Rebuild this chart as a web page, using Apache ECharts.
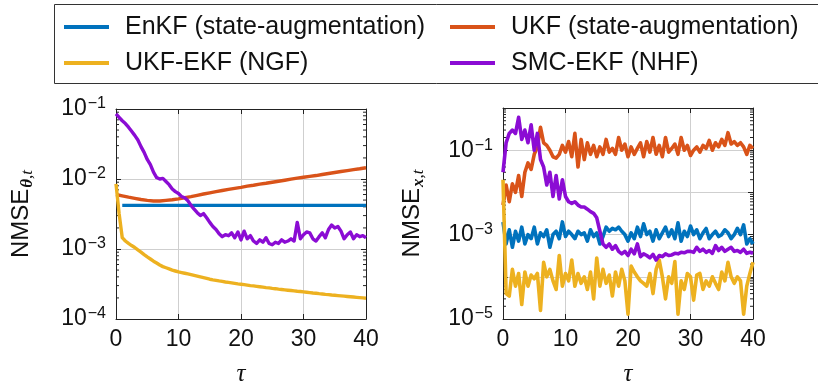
<!DOCTYPE html>
<html><head><meta charset="utf-8">
<script src="https://cdn.jsdelivr.net/npm/echarts@6/dist/echarts.min.js"></script>
<style>html,body{margin:0;padding:0;background:#fff}#c{width:818px;height:381px}</style>
</head><body><div id="c"></div>
<script>
// ---------- data ----------
const tauInt = [0,1,2,3,4,5,6,7,8,9,10,11,12,13,14,15,16,17,18,19,20,21,22,23,24,25,26,27,28,29,30,31,32,33,34,35,36,37,38,39,40];
const tauHalf = [0,0.5,1,1.5,2,2.5,3,3.5,4,4.5,5,5.5,6,6.5,7,7.5,8,8.5,9,9.5,
  10,10.5,11,11.5,12,12.5,13,13.5,14,14.5,15,15.5,16,16.5,17,17.5,18,18.5,19,19.5,
  20,20.5,21,21.5,22,22.5,23,23.5,24,24.5,25,25.5,26,26.5,27,27.5,28,28.5,29,29.5,
  30,30.5,31,31.5,32,32.5,33,33.5,34,34.5,35,35.5,36,36.5,37,37.5,38,38.5,39,39.5,40];

const seriesNames = ['EnKF (state-augmentation)','UKF (state-augmentation)','UKF-EKF (NGF)','SMC-EKF (NHF)'];
const seriesColors = ['#0072BD','#D95319','#EDB120','#8B0CD4'];

// left panel: NMSE theta
const leftEnKF = [null,4.2e-3,4.2e-3,4.2e-3,4.2e-3,4.2e-3,4.2e-3,4.2e-3,4.2e-3,4.2e-3,4.2e-3,4.2e-3,4.2e-3,4.2e-3,4.2e-3,4.2e-3,4.2e-3,4.2e-3,4.2e-3,4.2e-3,4.2e-3,4.2e-3,4.2e-3,4.2e-3,4.2e-3,4.2e-3,4.2e-3,4.2e-3,4.2e-3,4.2e-3,4.2e-3,4.2e-3,4.2e-3,4.2e-3,4.2e-3,4.2e-3,4.2e-3,4.2e-3,4.2e-3,4.2e-3,4.2e-3];
const leftUKF = [6.0e-3,5.75e-3,5.5e-3,5.3e-3,5.1e-3,4.95e-3,4.85e-3,4.85e-3,4.95e-3,5.05e-3,5.2e-3,5.4e-3,5.6e-3,5.85e-3,6.1e-3,6.35e-3,6.6e-3,6.85e-3,7.1e-3,7.35e-3,7.6e-3,7.9e-3,8.15e-3,8.45e-3,8.7e-3,9.0e-3,9.3e-3,9.6e-3,9.95e-3,1.03e-2,1.06e-2,1.09e-2,1.12e-2,1.16e-2,1.2e-2,1.24e-2,1.28e-2,1.32e-2,1.36e-2,1.4e-2,1.45e-2];
const leftNGF = [
  8.5e-3,3.2e-3,1.45e-3,1.3e-3,1.2e-3,1.12e-3,1.05e-3,9.7e-4,9.0e-4,8.3e-4,
  7.7e-4,7.2e-4,6.7e-4,6.3e-4,5.9e-4,5.6e-4,5.4e-4,5.2e-4,5.0e-4,4.85e-4,
  4.7e-4,4.6e-4,4.5e-4,4.4e-4,4.3e-4,4.2e-4,4.1e-4,4.0e-4,3.9e-4,3.8e-4,
  3.7e-4,3.63e-4,3.57e-4,3.5e-4,3.44e-4,3.38e-4,3.33e-4,3.28e-4,3.23e-4,3.18e-4,
  3.14e-4,3.1e-4,3.05e-4,3.0e-4,2.97e-4,2.93e-4,2.89e-4,2.85e-4,2.81e-4,2.78e-4,
  2.74e-4,2.71e-4,2.67e-4,2.64e-4,2.61e-4,2.58e-4,2.55e-4,2.52e-4,2.49e-4,2.47e-4,
  2.44e-4,2.41e-4,2.38e-4,2.35e-4,2.33e-4,2.3e-4,2.28e-4,2.25e-4,2.23e-4,2.2e-4,
  2.18e-4,2.16e-4,2.14e-4,2.12e-4,2.1e-4,2.08e-4,2.06e-4,2.04e-4,2.02e-4,2.0e-4,
  1.98e-4];
const leftNHF = [
  8.5e-2,7.6e-2,6.8e-2,6.2e-2,5.5e-2,4.8e-2,4.2e-2,3.6e-2,2.9e-2,2.4e-2,
  1.9e-2,1.6e-2,1.25e-2,1.05e-2,1.0e-2,1.02e-2,9.2e-3,8.3e-3,7.2e-3,6.6e-3,
  6.2e-3,5.6e-3,5.4e-3,4.9e-3,4.2e-3,3.7e-3,3.3e-3,3.0e-3,3.2e-3,2.8e-3,
  2.4e-3,2.1e-3,1.9e-3,1.65e-3,1.5e-3,1.6e-3,1.55e-3,1.7e-3,1.45e-3,1.75e-3,
  1.35e-3,1.8e-3,1.4e-3,1.55e-3,1.3e-3,1.2e-3,1.35e-3,1.25e-3,1.45e-3,1.2e-3,
  1.15e-3,1.25e-3,1.2e-3,1.35e-3,1.25e-3,1.3e-3,1.4e-3,1.3e-3,2.4e-3,1.4e-3,
  1.6e-3,1.75e-3,1.7e-3,1.4e-3,1.3e-3,1.5e-3,1.7e-3,1.45e-3,1.9e-3,2.2e-3,
  2.0e-3,2.1e-3,1.8e-3,1.4e-3,1.6e-3,1.75e-3,1.4e-3,1.6e-3,1.5e-3,1.55e-3,
  1.45e-3];

// right panel: NMSE x
const rightEnKF = [
  2e-3,6e-4,1.3e-3,5e-4,1.2e-3,7e-4,1.5e-3,6e-4,1.0e-3,8e-4,
  1.5e-3,6e-4,1.1e-3,9e-4,1.3e-3,5e-4,1.0e-3,1.2e-3,8e-4,2.0e-3,
  9e-4,1.2e-3,1.0e-3,8e-4,1.2e-3,1.0e-3,1.1e-3,7e-4,1.3e-3,9e-4,
  1.1e-3,6e-4,9e-4,1.5e-3,1.2e-3,1.4e-3,1.3e-3,1.5e-3,1.2e-3,1.0e-3,
  7e-4,1.1e-3,8e-4,1.5e-3,9e-4,1.8e-3,1.0e-3,1.2e-3,7e-4,1.3e-3,
  8e-4,1.1e-3,1.5e-3,9e-4,1.3e-3,8e-4,1.9e-3,7e-4,1.2e-3,9e-4,
  1.6e-3,1.0e-3,1.3e-3,8e-4,1.1e-3,1.4e-3,8e-4,1.0e-3,1.2e-3,9e-4,
  1.0e-3,1.3e-3,1.1e-3,8e-4,1.0e-3,1.4e-3,1.0e-3,1.7e-3,6e-4,8e-4,
  6e-4];
const rightUKF = [
  5e-3,1.5e-2,6e-3,1.6e-2,1.0e-2,2.5e-2,8e-3,3.0e-2,5.0e-2,3.5e-2,
  8.0e-2,1.2e-1,3.5e-1,1.5e-1,1.3e-1,1.0e-1,7e-2,6.5e-2,8e-2,1.3e-1,
  9e-2,1.6e-1,7e-2,2.5e-1,4e-2,1.8e-1,6e-2,1.5e-1,8e-2,1.3e-1,
  7e-2,1.2e-1,8e-2,1.8e-1,9e-2,1.1e-1,8e-2,2.0e-1,1.0e-1,1.4e-1,
  7e-2,1.2e-1,8e-2,1.1e-1,1.5e-1,7e-2,1.6e-1,9e-2,2.0e-1,8e-2,
  1.3e-1,7e-2,2.0e-1,9e-2,1.1e-1,1.4e-1,8e-2,2.0e-1,1.0e-1,1.3e-1,
  7.5e-2,1.0e-1,1.2e-1,9e-2,1.3e-1,1.1e-1,1.7e-1,1.0e-1,1.5e-1,1.2e-1,
  1.8e-1,1.3e-1,2.6e-1,1.4e-1,1.6e-1,1.3e-1,1.5e-1,1.2e-1,8e-2,1.3e-1,
  1.1e-1];
const rightNGF = [
  2e-2,4e-5,3.5e-5,1.5e-4,6e-5,1.2e-4,2.2e-5,1.3e-4,6e-5,1.1e-4,
  9e-5,1.2e-4,1.6e-5,2.2e-4,1.0e-4,1.5e-4,8e-5,5e-5,3.2e-4,6e-5,
  1.2e-4,8e-5,2.5e-4,6e-5,1.2e-4,7e-5,1.0e-4,5e-5,1.3e-4,3e-5,
  2.8e-4,6e-5,1.5e-4,7e-5,1.1e-4,3.5e-5,1.3e-4,6e-5,1.5e-4,8e-5,
  1.3e-5,1.8e-4,1.3e-4,1.0e-4,8e-5,7e-5,6e-5,1.2e-4,4e-5,1.5e-4,
  2.5e-4,1.0e-4,3e-5,1.0e-4,7e-5,2.3e-4,1.3e-5,8e-5,5e-5,1.2e-4,
  1.0e-4,2.8e-5,1.1e-4,1.2e-4,5e-5,8e-5,6e-5,1.0e-4,7e-5,5e-5,
  1.3e-4,8e-5,2.2e-4,1.0e-4,7e-5,1.0e-4,8e-5,1.3e-5,6e-5,1.2e-4,
  2.2e-4];
const rightNHF = [
  3e-2,1.5e-1,2.5e-1,3.0e-1,2.5e-1,6e-1,1.8e-1,3e-1,1.5e-1,4e-1,
  1.0e-1,2.5e-1,6e-2,4e-2,1.5e-2,3e-2,8e-3,2.5e-2,7e-3,2e-2,
  8e-3,6e-3,5.5e-3,6e-3,5e-3,4.5e-3,4.5e-3,4e-3,3.5e-3,3.2e-3,
  2.5e-3,1.2e-3,6e-4,5e-4,6e-4,4.5e-4,5.5e-4,4e-4,3.5e-4,4e-4,
  3.2e-4,4.5e-4,3.5e-4,6e-4,3e-4,3.5e-4,3.2e-4,2.8e-4,3.4e-4,2.5e-4,
  3.2e-4,3e-4,3.5e-4,3.2e-4,3.3e-4,3.6e-4,3.5e-4,3.8e-4,3.7e-4,4e-4,
  4.0e-4,3.8e-4,5e-4,4e-4,4.5e-4,3.8e-4,4.2e-4,3.6e-4,5.5e-4,4.2e-4,
  5e-4,4e-4,4.5e-4,5e-4,4e-4,4.2e-4,3.8e-4,4.5e-4,3.6e-4,3.8e-4,
  3.6e-4];

// tick configuration
const xTicks = {min: 0, max: 40, interval: 10};
const leftY = {min: 1e-4, max: 1e-1};
const rightY = {min: 1e-5, max: 1};
const minorMultipliers = [2,3,4,5,6,7,8,9];
const leftDecades = [1e-4,1e-3,1e-2];
const rightDecades = [1e-5,1e-4,1e-3,1e-2,1e-1];

// ---------- chart ----------
const SANS = "'Liberation Sans', Arial, Helvetica, sans-serif";
const SERIF = "'Liberation Serif', 'DejaVu Serif', serif";
const AX = '#222';
const GRIDC = '#cfcfcf';

function zip(xs, ys){ return xs.map((x,i)=>[x, ys[i]]); }
function expLabel(skipEven){
  return function(v){
    const e = Math.round(Math.log10(v));
    if (skipEven && e % 2 === 0) return '';
    return '{a|10}{s|' + (e < 0 ? '\u2212' : '') + Math.abs(e) + '}';
  };
}
const labelRich = {
  a: {fontSize: 23, fontFamily: SANS, color: '#111', lineHeight: 30, verticalAlign: 'middle'},
  s: {fontSize: 16, fontFamily: SANS, color: '#111', verticalAlign: 'top', padding: [2,0,0,1]}
};
function nameRich(){
  return {
    n: {fontSize: 24, fontFamily: SANS, color: '#111', lineHeight: 30, verticalAlign: 'middle'},
    b: {fontSize: 17, fontFamily: SERIF, fontStyle: 'italic', fontWeight: 'bold', color: '#111', verticalAlign: 'bottom', padding: [0,0,0,1]},
    i: {fontSize: 17, fontFamily: SERIF, fontStyle: 'italic', color: '#111', verticalAlign: 'bottom'}
  };
}

function xAxisMain(gridIndex){
  return {
    type: 'value', gridIndex, min: xTicks.min, max: xTicks.max, interval: xTicks.interval,
    position: 'bottom',
    axisLine: {show: true, onZero: false, lineStyle: {color: AX, width: 1}},
    axisTick: {show: true, inside: true, length: 5, lineStyle: {color: AX}},
    axisLabel: {fontSize: 23, fontFamily: SANS, color: '#111', margin: 9},
    splitLine: {show: true, lineStyle: {color: GRIDC, width: 1}},
    name: '\u03C4', nameLocation: 'middle', nameGap: 43,
    nameTextStyle: {fontSize: 25, fontFamily: SERIF, fontStyle: 'italic', color: '#111'}
  };
}
function xAxisTop(gridIndex){
  return {
    type: 'value', gridIndex, min: xTicks.min, max: xTicks.max, interval: xTicks.interval,
    position: 'top',
    axisLine: {show: true, onZero: false, lineStyle: {color: AX, width: 1}},
    axisTick: {show: true, inside: true, length: 5, lineStyle: {color: AX}},
    axisLabel: {show: false}, splitLine: {show: false}
  };
}
function yAxisMain(gridIndex, rng, skipEven, nameStr, gap){
  return {
    type: 'log', logBase: 10, gridIndex, min: rng.min, max: rng.max, position: 'left',
    axisLine: {show: true, onZero: false, lineStyle: {color: AX, width: 1}},
    axisTick: {show: true, inside: true, length: 5, lineStyle: {color: AX}},
    axisLabel: {formatter: expLabel(skipEven), rich: labelRich, margin: 10},
    splitLine: {show: true, lineStyle: {color: GRIDC, width: 1}},
    name: nameStr, nameLocation: 'middle', nameRotate: 90, nameGap: gap,
    nameTextStyle: {rich: nameRich()}
  };
}
function yAxisMirror(gridIndex, rng){
  return {
    type: 'log', logBase: 10, gridIndex, min: rng.min, max: rng.max, position: 'right',
    axisLine: {show: true, onZero: false, lineStyle: {color: AX, width: 1}},
    axisTick: {show: true, inside: true, length: 5, lineStyle: {color: AX}},
    axisLabel: {show: false}, splitLine: {show: false}
  };
}

function buildMinor(decades){
  const out = [];
  decades.forEach(d => minorMultipliers.forEach(m => out.push([0, d*m])));
  return out;
}
function minorSeries(idx, decades){
  return {
    type: 'custom', xAxisIndex: idx, yAxisIndex: idx, silent: true, z: 1,
    data: buildMinor(decades),
    renderItem: function(params, api){
      const v = api.value(1);
      const pL = api.coord([xTicks.min, v]);
      const pR = api.coord([xTicks.max, v]);
      return {type: 'group', children: [
        {type: 'line', shape: {x1: pL[0], y1: pL[1], x2: pL[0]+3, y2: pL[1]}, style: {stroke: AX, lineWidth: 1}},
        {type: 'line', shape: {x1: pR[0]-3, y1: pR[1], x2: pR[0], y2: pR[1]}, style: {stroke: AX, lineWidth: 1}}
      ]};
    }
  };
}

const series = [];
function addLine(k, idx, xs, ys, width){
  series.push({
    name: seriesNames[k], type: 'line', xAxisIndex: idx, yAxisIndex: idx,
    data: zip(xs, ys), showSymbol: false, symbol: 'none', connectNulls: false,
    lineStyle: {color: seriesColors[k], width: width, join: 'round'},
    itemStyle: {color: seriesColors[k]}, z: 3 + k
  });
}
addLine(0, 0, tauInt, leftEnKF, 3.4);
addLine(1, 0, tauInt, leftUKF, 3.4);
addLine(2, 0, tauHalf, leftNGF, 3.4);
addLine(3, 0, tauHalf, leftNHF, 3.4);
addLine(0, 1, tauHalf, rightEnKF, 3.6);
addLine(1, 1, tauHalf, rightUKF, 3.6);
addLine(2, 1, tauHalf, rightNGF, 3.6);
addLine(3, 1, tauHalf, rightNHF, 3.6);
series.push(minorSeries(0, leftDecades));
series.push(minorSeries(1, rightDecades));

const legendCommon = {
  orient: 'vertical', itemWidth: 45, itemHeight: 4, itemGap: 10, icon: 'rect',
  padding: 0, selectedMode: false,
  textStyle: {fontSize: 25, fontFamily: SANS, color: '#111', lineHeight: 26, padding: [0,0,0,11]}
};

const chart = echarts.init(document.getElementById('c'), null, {renderer: 'canvas'});
chart.setOption({
  backgroundColor: '#fff',
  animation: false,
  color: seriesColors,
  grid: [
    {left: 116, top: 109, width: 250, height: 210, containLabel: false, outerBoundsMode: 'none'},
    {left: 503, top: 108, width: 250, height: 211, containLabel: false, outerBoundsMode: 'none'}
  ],
  xAxis: [xAxisMain(0), xAxisMain(1), xAxisTop(0), xAxisTop(1)],
  yAxis: [
    yAxisMain(0, leftY, false, '{n|NMSE}{b|\u03B8}{i|,t}', 80),
    yAxisMain(1, rightY, true, '{n|NMSE}{b|x}{i|,t}', 76),
    yAxisMirror(0, leftY), yAxisMirror(1, rightY)
  ],
  legend: [
    Object.assign({}, legendCommon, {left: 64, top: 14, data: [seriesNames[0], seriesNames[2]]}),
    Object.assign({}, legendCommon, {left: 450, top: 14, data: [seriesNames[1], seriesNames[3]]})
  ],
  graphic: [{
    type: 'rect', silent: true, z: -1,
    shape: {x: 54.5, y: 4.5, width: 800, height: 79},
    style: {fill: 'none', stroke: '#333', lineWidth: 1}
  }],
  series: series
});
</script>
</body></html>
